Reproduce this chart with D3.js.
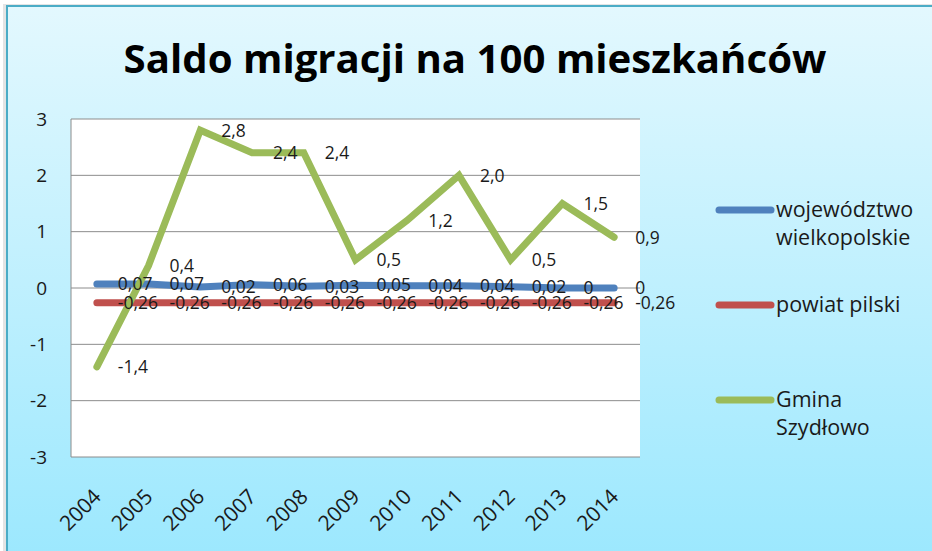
<!DOCTYPE html>
<html>
<head>
<meta charset="utf-8">
<script src="https://cdn.jsdelivr.net/npm/d3@7"></script>
<style>
  html, body { margin: 0; padding: 0; background: #ffffff; }
  svg { display: block; }
  text { font-family: "Open Sans", "Noto Sans", sans-serif; fill: #1a1a1a; }
</style>
</head>
<body>
<div id="chart"></div>
<script>
// CONSTANTS AND GLOBALS
const width = 932;
const height = 551;

// data
const years = ["2004", "2005", "2006", "2007", "2008", "2009", "2010", "2011", "2012", "2013", "2014"];
const wojewodztwo = [0.07, 0.07, 0.02, 0.06, 0.03, 0.05, 0.04, 0.04, 0.02, 0, 0];
const powiat = [-0.26, -0.26, -0.26, -0.26, -0.26, -0.26, -0.26, -0.26, -0.26, -0.26, -0.26];
const gmina = [-1.4, 0.4, 2.8, 2.4, 2.4, 0.5, 1.2, 2.0, 0.5, 1.5, 0.9];
const yTicks = [-3, -2, -1, 0, 1, 2, 3];
const seriesNames = [["województwo", "wielkopolskie"], ["powiat pilski"], ["Gmina", "Szydłowo"]];
const seriesColors = ["#4f81bd", "#c0504d", "#9bbb59"];

// polish style numbers: comma decimal, plain hyphen minus
const pl = d3.formatLocale({ decimal: ",", thousands: " ", grouping: [3], currency: ["", ""], minus: "-" });
const fmt2 = v => v === 0 ? "0" : pl.format(".2f")(v);
const fmt1 = v => pl.format(".1f")(v);

const series = [
  { name: seriesNames[0], values: wojewodztwo, color: seriesColors[0], fmt: fmt2 },
  { name: seriesNames[1], values: powiat, color: seriesColors[1], fmt: fmt2 },
  { name: seriesNames[2], values: gmina, color: seriesColors[2], fmt: fmt1 }
];

const plot = { left: 71, top: 119, right: 640, bottom: 457 };

const svg = d3.select("#chart").append("svg")
  .attr("width", width)
  .attr("height", height);

// background gradient + frame
const defs = svg.append("defs");
const grad = defs.append("linearGradient")
  .attr("id", "bg").attr("x1", 0).attr("y1", 0).attr("x2", 0).attr("y2", 1);
grad.append("stop").attr("offset", "0%").attr("stop-color", "#e3f8fe");
grad.append("stop").attr("offset", "100%").attr("stop-color", "#9ce8fe");

svg.append("rect")
  .attr("x", 3).attr("y", 4).attr("width", width).attr("height", height)
  .attr("fill", "#e4e4e4");
svg.append("rect")
  .attr("x", 7).attr("y", 6).attr("width", width).attr("height", height)
  .attr("fill", "url(#bg)")
  .attr("stroke", "#4bacc6")
  .attr("stroke-width", 2);

// title, sized to the width it has in the picture
const title = svg.append("text")
  .attr("x", 475).attr("y", 73)
  .attr("text-anchor", "middle")
  .attr("font-weight", "bold")
  .attr("font-size", 40)
  .style("fill", "#000")
  .text("Saldo migracji na 100 mieszkańców");
const tw = title.node().getComputedTextLength();
title.attr("font-size", 40 * 703 / tw);

// SCALES
const x = d3.scalePoint()
  .domain(years)
  .range([plot.left, plot.right])
  .padding(0.5);

const y = d3.scaleLinear()
  .domain([-3, 3])
  .range([plot.bottom, plot.top]);

// plot area
svg.append("rect")
  .attr("x", plot.left).attr("y", plot.top)
  .attr("width", plot.right - plot.left)
  .attr("height", plot.bottom - plot.top)
  .attr("fill", "#ffffff");

svg.append("g")
  .selectAll("line")
  .data(yTicks)
  .join("line")
  .attr("x1", plot.left).attr("x2", plot.right)
  .attr("y1", d => y(d)).attr("y2", d => y(d))
  .attr("stroke", "#8c8c8c")
  .attr("stroke-width", 1);

svg.append("line")
  .attr("x1", plot.left).attr("x2", plot.left)
  .attr("y1", plot.top).attr("y2", plot.bottom)
  .attr("stroke", "#8c8c8c");

// AXES
const yAxis = svg.append("g")
  .attr("transform", `translate(${plot.left},0)`)
  .call(d3.axisLeft(y).tickValues(yTicks).tickSize(0).tickPadding(24).tickFormat(d => pl.format("d")(d)));
yAxis.select(".domain").remove();
yAxis.selectAll("text")
  .attr("font-size", 19)
  .style("font-family", "\"Open Sans\", sans-serif")
  .style("fill", "#1a1a1a");

const xAxis = svg.append("g")
  .attr("transform", `translate(0,${plot.bottom})`)
  .call(d3.axisBottom(x).tickSize(0).tickPadding(0));
xAxis.select(".domain").remove();
xAxis.selectAll("text")
  .attr("font-size", 21)
  .attr("text-anchor", "end")
  .attr("y", 0)
  .attr("dy", 0)
  .attr("transform", "translate(5,41) rotate(-45)")
  .style("font-family", "\"Open Sans\", sans-serif")
  .style("fill", "#1a1a1a");

// LINES
const line = d3.line()
  .x((d, i) => x(years[i]))
  .y(d => y(d));

svg.append("g")
  .selectAll("path")
  .data(series)
  .join("path")
  .attr("d", d => line(d.values))
  .attr("fill", "none")
  .attr("stroke", d => d.color)
  .attr("stroke-width", 7)
  .attr("stroke-linecap", "round")
  .attr("stroke-linejoin", "miter");

// DATA LABELS (to the right of each point)
series.forEach(s => {
  svg.append("g")
    .selectAll("text")
    .data(s.values)
    .join("text")
    .attr("x", (d, i) => x(years[i]) + 21)
    .attr("y", d => y(d))
    .attr("dy", "0.36em")
    .attr("font-size", 17.5)
    .text(d => s.fmt(d));
});

// LEGEND
const legendY = [210, 305, 400];
const legend = svg.append("g")
  .selectAll("g")
  .data(series)
  .join("g")
  .attr("transform", (d, i) => `translate(0,${legendY[i]})`);

legend.append("line")
  .attr("x1", 719).attr("x2", 771)
  .attr("stroke", d => d.color)
  .attr("stroke-width", 7)
  .attr("stroke-linecap", "round");

legend.append("text")
  .attr("x", 776)
  .attr("font-size", 21.5)
  .selectAll("tspan")
  .data(d => d.name)
  .join("tspan")
  .attr("x", 776)
  .attr("y", (d, i) => 7 + i * 28)
  .text(d => d);
</script>
</body>
</html>
